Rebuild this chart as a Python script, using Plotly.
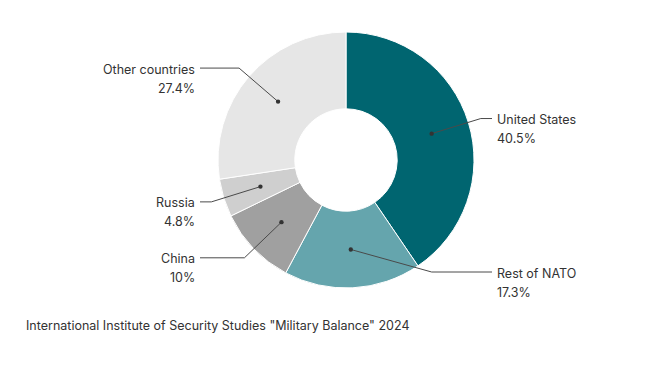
import math
import plotly.graph_objects as go

labels = ["United States", "Rest of NATO", "China", "Russia", "Other countries"]
values = [40.5, 17.3, 10, 4.8, 27.4]
pct_text = ["40.5%", "17.3%", "10%", "4.8%", "27.4%"]
colors = ["#006570", "#65a5ad", "#a0a0a0", "#cfcfcf", "#e6e6e6"]
source = 'International Institute of Security Studies "Military Balance" 2024'

W, H = 664, 377
OFF = 8  # page body margin
cx, cy, R = 346 - OFF, 160 - OFF, 128
hole = 0.4
FONT = "Inter"
FS = 12.5


def px_(x):
    return x / W


def py_(y):
    return 1 - y / H


fig = go.Figure()
fig.add_trace(go.Pie(
    labels=labels, values=values, sort=False, direction="clockwise", rotation=0,
    hole=hole, marker=dict(colors=colors, line=dict(color="white", width=1)),
    textinfo="none", hoverinfo="label+percent", showlegend=False,
    domain=dict(x=[(cx - R) / W, (cx + R) / W], y=[(H - cy - R) / H, (H - cy + R) / H]),
))

total = sum(values)
start = 0.0
annotations = []
shapes = []
r_dot = R * (1 + hole) / 2
r_elb = R + 13
for lab, v, p in zip(labels, values, pct_text):
    mid = start + v / total * 360 / 2
    start += v / total * 360
    a = math.radians(mid)
    dx, dy = math.sin(a), -math.cos(a)
    dotx, doty = cx + r_dot * dx, cy + r_dot * dy
    ey = max(-112, min(112, r_elb * dy))
    ex = math.copysign(math.sqrt(r_elb ** 2 - ey ** 2), dx)
    ex, ey = cx + ex, cy + ey
    side = 1 if dx >= 0 else -1
    hx = cx + side * 146
    path = f"M{px_(dotx)},{py_(doty)} L{px_(ex)},{py_(ey)} L{px_(hx)},{py_(ey)}"
    shapes.append(dict(type="path", path=path, xref="paper", yref="paper", layer="above",
                       line=dict(color="#4a4a4a", width=1)))
    rr = 2.2
    shapes.append(dict(type="circle", xref="paper", yref="paper", layer="above",
                       x0=px_(dotx - rr), x1=px_(dotx + rr), y0=py_(doty + rr), y1=py_(doty - rr),
                       fillcolor="#333333", line=dict(width=0)))
    tx = cx + side * 149
    anchor = "left" if side > 0 else "right"
    annotations.append(dict(x=px_(tx), y=py_(ey + 1), text=lab, xanchor=anchor, yanchor="middle",
                            showarrow=False, xref="paper", yref="paper",
                            font=dict(family=FONT, size=FS, color="#333333")))
    annotations.append(dict(x=px_(tx), y=py_(ey + 20), text=p, xanchor=anchor, yanchor="middle",
                            showarrow=False, xref="paper", yref="paper",
                            font=dict(family=FONT, size=FS, color="#333333")))

annotations.append(dict(x=px_(24 - OFF), y=py_(325 - OFF), text=source, xanchor="left",
                        yanchor="middle", showarrow=False, xref="paper", yref="paper",
                        font=dict(family=FONT, size=FS, color="#333333")))

fig.update_layout(
    width=W, height=H, margin=dict(l=0, r=0, t=0, b=0),
    paper_bgcolor="white", plot_bgcolor="rgba(0,0,0,0)",
    annotations=annotations, shapes=shapes, showlegend=False,
)
fig.write_html("out.html")
